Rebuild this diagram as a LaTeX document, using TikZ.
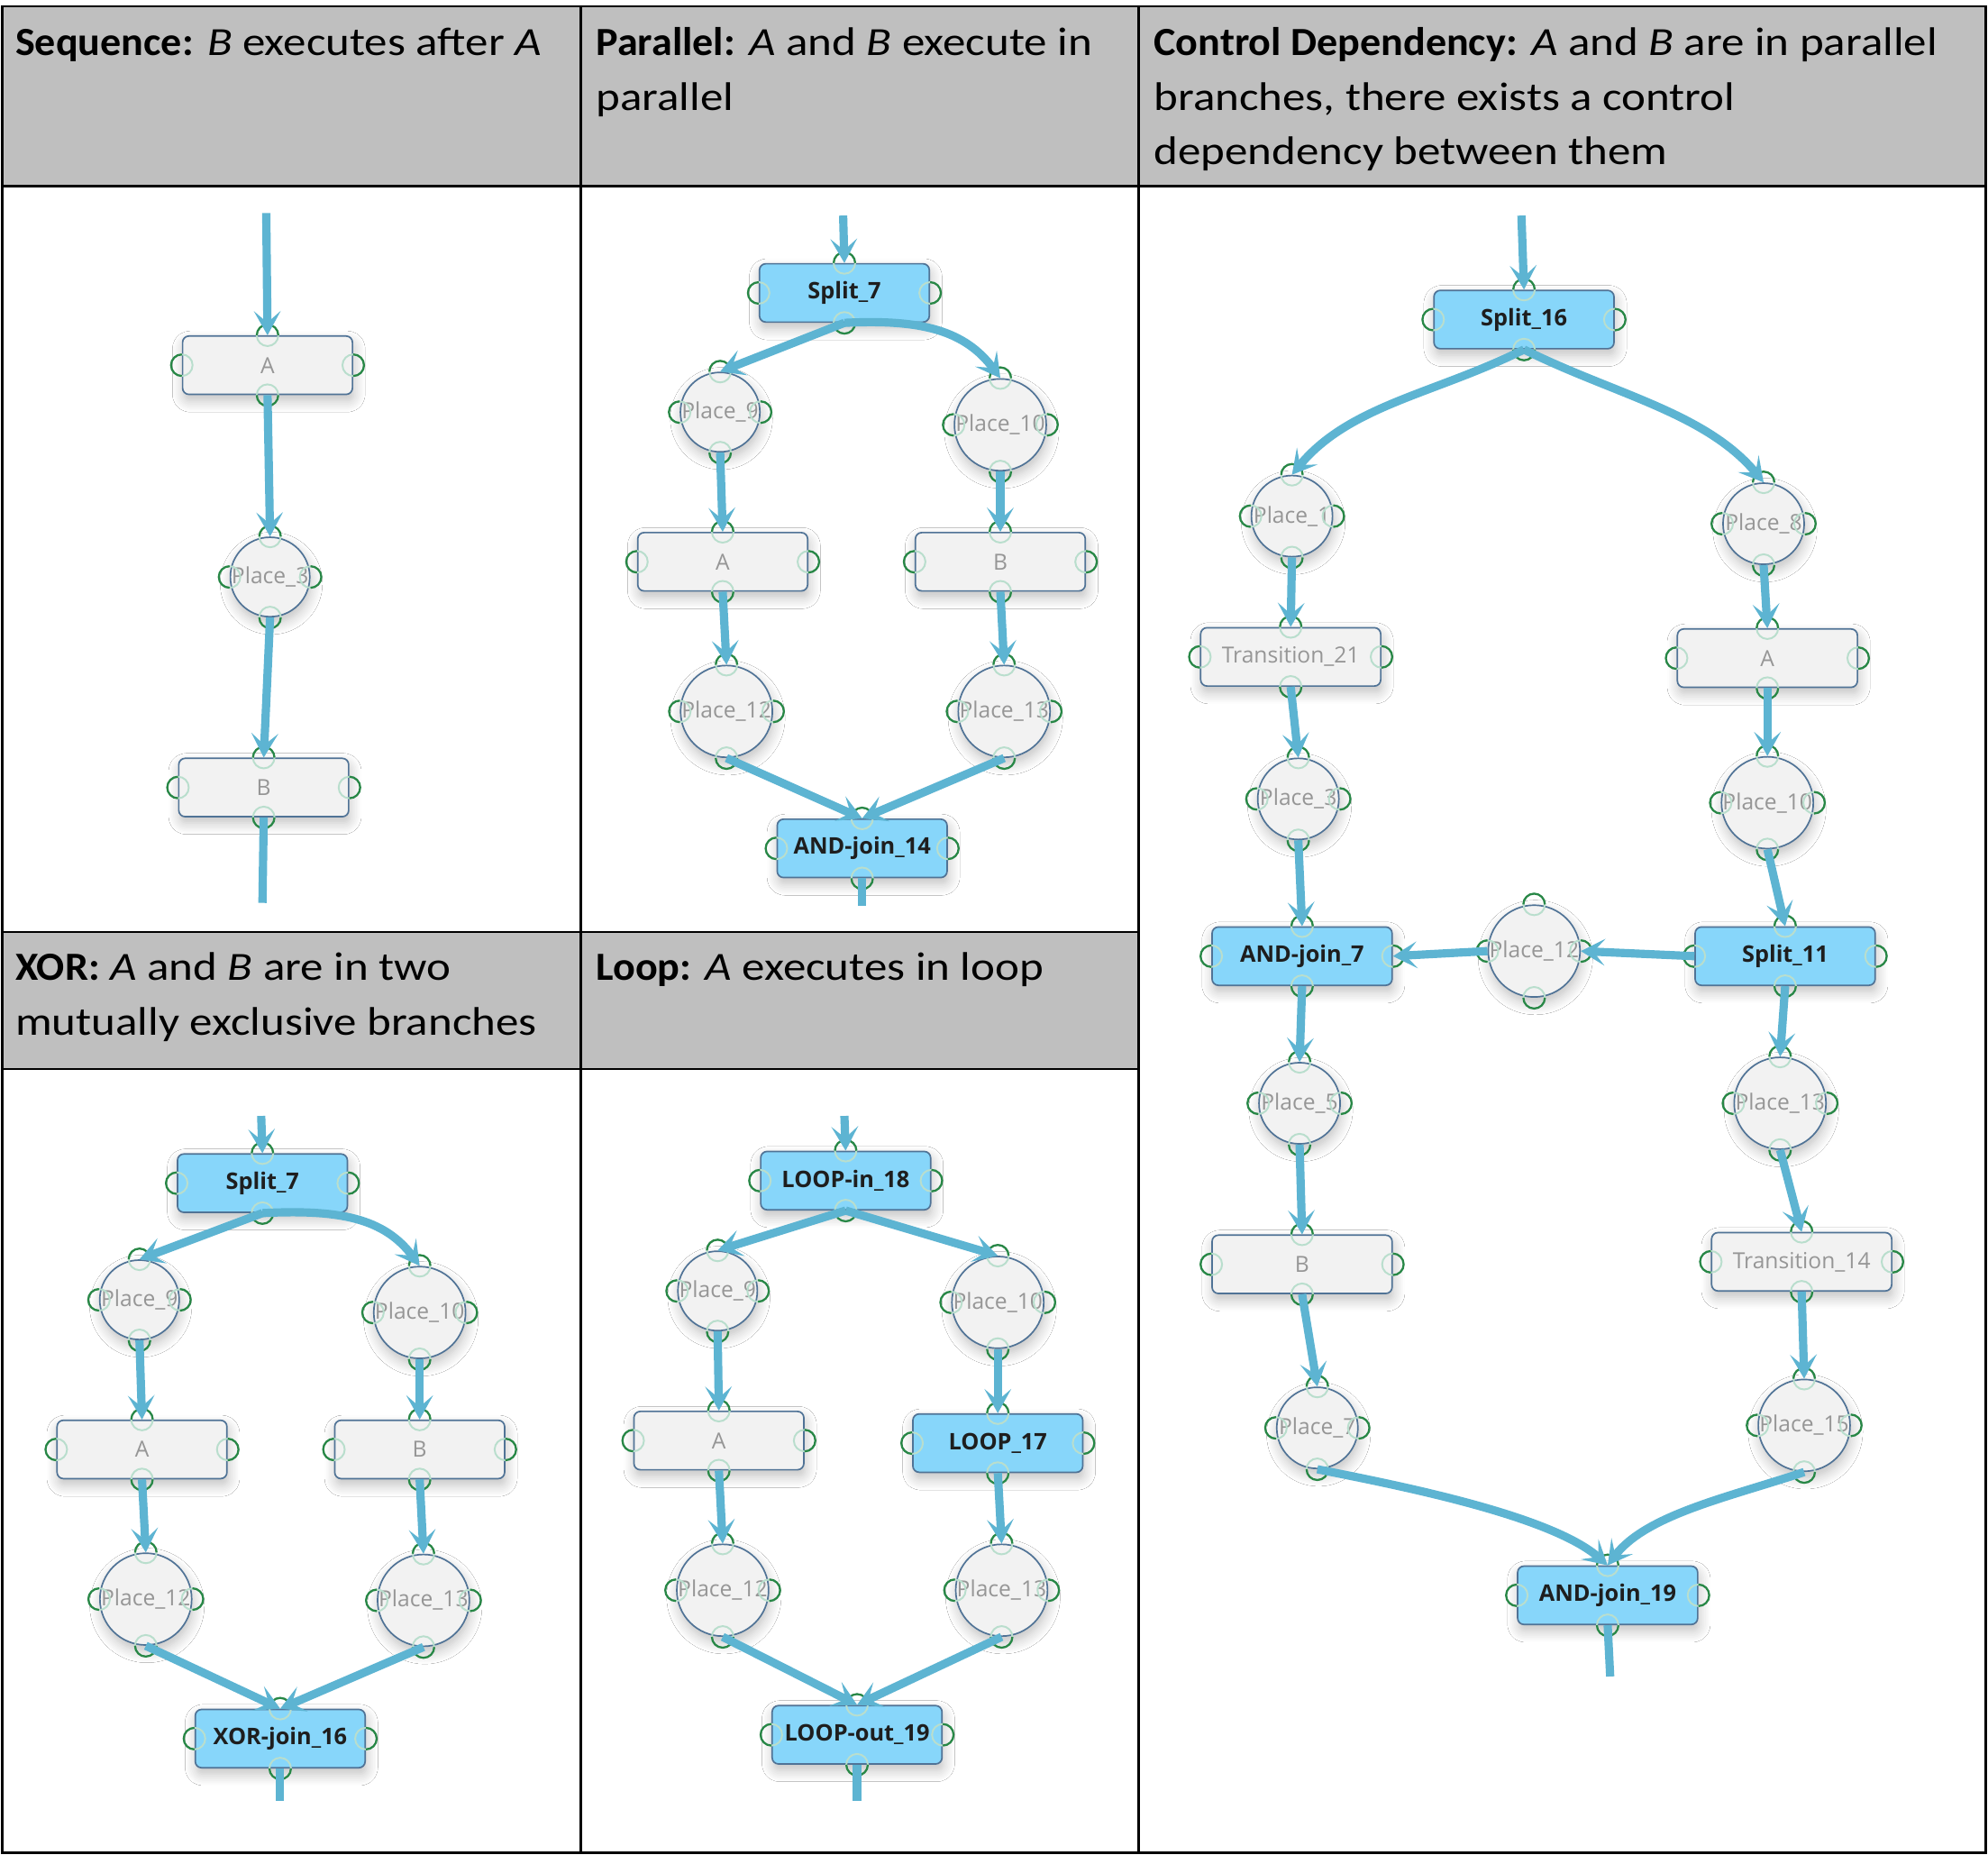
\documentclass[tikz,border=0pt]{standalone}
\usepackage{fontspec}
\setmainfont{Carlito}[UprightFeatures={FakeStretch=1.15},ItalicFeatures={FakeStretch=1.15},BoldFeatures={FakeStretch=1.04}]
\newfontfamily\nodefont{Open Sans}
\usetikzlibrary{arrows.meta,shadows.blur}
\definecolor{flowc}{RGB}{93,180,210}
\definecolor{hlfill}{RGB}{135,214,250}
\definecolor{nodefill}{RGB}{242,242,242}
\definecolor{nodedraw}{RGB}{80,115,150}
\definecolor{hdrfill}{RGB}{191,191,191}
\definecolor{portdk}{RGB}{40,135,70}
\definecolor{portlt}{RGB}{185,222,205}
\definecolor{lbl}{RGB}{150,150,150}
\definecolor{lblb}{RGB}{30,30,30}
\tikzset{
  hdr/.style={anchor=base west,inner sep=0pt,font=\fontsize{31.5}{43}\selectfont},
  shad/.style={blur shadow={shadow xshift=1pt,shadow yshift=-5pt,shadow blur radius=9pt,shadow blur steps=8,shadow opacity=25}},
  trans/.style={shad,draw=nodedraw,line width=1.2pt,fill=nodefill,rounded corners=5pt,minimum width=134pt,minimum height=46pt,inner sep=0pt,font=\nodefont\fontsize{17.5}{20}\selectfont,text=lbl},
  transw/.style={trans,minimum width=142pt},
  hl/.style={trans,fill=hlfill,font=\nodefont\bfseries\fontsize{18}{20}\selectfont,text=lblb},
  hlw/.style={hl,minimum width=142pt},
  place/.style={shad,circle,draw=nodedraw,line width=1.2pt,fill=nodefill,minimum size=62pt,inner sep=0pt,font=\nodefont\fontsize{17.5}{20}\selectfont,text=lbl},
  placew/.style={place,minimum size=64pt},
  flow/.style={line width=6.5pt,draw=flowc,-{Stealth[length=19pt,width=21pt,inset=9pt]}},
  tail/.style={line width=6.5pt,draw=flowc},
  portfaint/.style={draw=portlt,line width=1.4pt},
  portdark/.style={draw=portdk,line width=1.6pt},
  grid/.style={draw=black,line width=2pt}
}
\newcommand\prt[2]{%
  \draw[portfaint] (#1) circle[radius=8.5pt];
  \draw[portdark] (#1) ++(#2-90:8.5pt) arc[start angle=#2-90,delta angle=180,radius=8.5pt];}
\newcommand\ports[1]{\prt{#1.west}{180}\prt{#1.east}{0}\prt{#1.north}{90}\prt{#1.south}{270}}
\begin{document}
\begin{tikzpicture}[x=1pt,y=-1pt]
\useasboundingbox (0,0) rectangle (1568,1462.8);
\fill[white] (0,0) rectangle (1568,1462.8);
% table
\fill[hdrfill] (2,5) rectangle (1566,147);
\fill[hdrfill] (2,735) rectangle (898,843);
\draw[grid] (2,5) rectangle (1566,1461);
\draw[grid] (2,147) -- (1566,147);
\draw[grid] (2,735) -- (898,735);
\draw[grid] (2,843) -- (898,843);
\draw[grid] (458,5) -- (458,1461);
\draw[grid] (898,5) -- (898,1461);
% headers
\node[hdr] (h1) at (12,44) {\textbf{Sequence:} \textit{B} executes after \textit{A}};
\node[hdr] (h2a) at (470,44) {\textbf{Parallel:} \textit{A} and \textit{B} execute in};
\node[hdr] (h2b) at (470,87) {parallel};
\node[hdr] (h3a) at (910,44) {\textbf{Control Dependency:} \textit{A} and \textit{B} are in parallel};
\node[hdr] (h3b) at (910,87) {branches, there exists a control};
\node[hdr] (h3c) at (910,130) {dependency between them};
\node[hdr] (h4a) at (12,773) {\textbf{XOR:} \textit{A} and \textit{B} are in two};
\node[hdr] (h4b) at (12,816) {mutually exclusive branches};
\node[hdr] (h5) at (470,773) {\textbf{Loop:} \textit{A} executes in loop};

% ---------- Sequence
\coordinate (s_in) at (210,168);
\node[trans] (sA) at (211,288) {A};
\node[place] (sP3) at (213,455) {Place\_3};
\node[trans] (sB) at (208,621) {B};
\coordinate (s_out) at (207,712);

% ---------- Parallel
\coordinate (p_in) at (665,170);
\node[hl] (pS) at (666,231) {Split\_7};
\node[place] (pP9) at (568,325) {Place\_9};
\node[place] (pP10) at (789,335) {Place\_10};
\node[trans] (pA) at (570,443) {A};
\node[trans] (pB) at (789,443) {B};
\node[place] (pP12) at (573,561) {Place\_12};
\node[place] (pP13) at (792,561) {Place\_13};
\node[hl] (pJ) at (680,669) {AND-join\_14};
\coordinate (p_out) at (680,714);

% ---------- XOR
\coordinate (x_in) at (206,880);
\node[hl] (xS) at (207,933) {Split\_7};
\node[place] (xP9) at (110,1025) {Place\_9};
\node[place] (xP10) at (331,1035) {Place\_10};
\node[trans] (xA) at (112,1143) {A};
\node[trans] (xB) at (331,1143) {B};
\node[place] (xP12) at (115,1261) {Place\_12};
\node[place] (xP13) at (334,1262) {Place\_13};
\node[hl] (xJ) at (221,1371) {XOR-join\_16};
\coordinate (x_out) at (221,1420);

% ---------- Loop
\coordinate (l_in) at (666,880);
\node[hl] (lS) at (667,931) {LOOP-in\_18};
\node[place] (lP9) at (566,1018) {Place\_9};
\node[place] (lP10) at (787,1027) {Place\_10};
\node[trans] (lA) at (567,1136) {A};
\node[hl] (lL) at (787,1138) {LOOP\_17};
\node[place] (lP12) at (570,1254) {Place\_12};
\node[place] (lP13) at (790,1254) {Place\_13};
\node[hl] (lJ) at (676,1368) {LOOP-out\_19};
\coordinate (l_out) at (676,1420);

% ---------- Control dependency
\coordinate (c_in) at (1200,170);
\node[hlw] (cS) at (1202,252) {Split\_16};
\node[placew] (cP1) at (1019,407) {Place\_1};
\node[placew] (cP8) at (1391,413) {Place\_8};
\node[transw] (cT21) at (1018,518) {Transition\_21};
\node[transw] (cA) at (1394,519) {A};
\node[placew] (cP3) at (1024,630) {Place\_3};
\node[placew] (cP10) at (1394,633) {Place\_10};
\node[hlw] (cJ7) at (1027,754) {AND-join\_7};
\node[placew] (cP12) at (1210,750) {Place\_12};
\node[hlw] (cS11) at (1408,754) {Split\_11};
\node[placew] (cP5) at (1025,870) {Place\_5};
\node[placew] (cP13) at (1404,870) {Place\_13};
\node[transw] (cB) at (1027,997) {B};
\node[transw] (cT14) at (1421,995) {Transition\_14};
\node[placew] (cP7) at (1039,1126) {Place\_7};
\node[placew] (cP15) at (1423,1124) {Place\_15};
\node[hlw] (cJ19) at (1268,1258) {AND-join\_19};
\coordinate (c_out) at (1270,1322);

% ports
\foreach \n in {sA,sP3,sB,pS,pP9,pP10,pA,pB,pP12,pP13,pJ,xS,xP9,xP10,xA,xB,xP12,xP13,xJ,lS,lP9,lP10,lA,lL,lP12,lP13,lJ,cS,cP1,cP8,cT21,cA,cP3,cP10,cJ7,cP12,cS11,cP5,cP13,cB,cT14,cP7,cP15,cJ19}{\ports{\n}}

% ---------- connectors
% sequence
\draw[flow] (s_in) -- (sA.north);
\draw[flow] (sA.south) -- (sP3.north);
\draw[flow] (sP3.south) -- (sB.north);
\draw[tail] (sB.south) -- (s_out);
% parallel
\draw[flow] (p_in) -- (pS.north);
\draw[flow] (pS.south) -- (pP9.north);
\draw[flow] (pS.south) .. controls +(60,-3) and +(-28,-38) .. (pP10.north);
\draw[flow] (pP9.south) -- (pA.north);
\draw[flow] (pP10.south) -- (pB.north);
\draw[flow] (pA.south) -- (pP12.north);
\draw[flow] (pB.south) -- (pP13.north);
\draw[flow] (pP12.south) -- (pJ.north);
\draw[flow] (pP13.south) -- (pJ.north);
\draw[tail] (pJ.south) -- (p_out);
% xor
\draw[flow] (x_in) -- (xS.north);
\draw[flow] (xS.south) -- (xP9.north);
\draw[flow] (xS.south) .. controls +(60,-3) and +(-28,-38) .. (xP10.north);
\draw[flow] (xP9.south) -- (xA.north);
\draw[flow] (xP10.south) -- (xB.north);
\draw[flow] (xA.south) -- (xP12.north);
\draw[flow] (xB.south) -- (xP13.north);
\draw[flow] (xP12.south) -- (xJ.north);
\draw[flow] (xP13.south) -- (xJ.north);
\draw[tail] (xJ.south) -- (x_out);
% loop
\draw[flow] (l_in) -- (lS.north);
\draw[flow] (lS.south) -- (lP9.north);
\draw[flow] (lS.south) -- (lP10.north);
\draw[flow] (lP9.south) -- (lA.north);
\draw[flow] (lP10.south) -- (lL.north);
\draw[flow] (lA.south) -- (lP12.north);
\draw[flow] (lL.south) -- (lP13.north);
\draw[flow] (lP12.south) -- (lJ.north);
\draw[flow] (lP13.south) -- (lJ.north);
\draw[tail] (lJ.south) -- (l_out);
% control dependency
\draw[flow] (c_in) -- (cS.north);
\draw[flow] (cS.south) .. controls +(-70,35) and +(45,-55) .. (cP1.north);
\draw[flow] (cS.south) .. controls +(70,35) and +(-45,-55) .. (cP8.north);
\draw[flow] (cP1.south) -- (cT21.north);
\draw[flow] (cP8.south) -- (cA.north);
\draw[flow] (cT21.south) -- (cP3.north);
\draw[flow] (cA.south) -- (cP10.north);
\draw[flow] (cP3.south) -- (cJ7.north);
\draw[flow] (cP10.south) -- (cS11.north);
\draw[flow] (cS11.west) -- (cP12.east);
\draw[flow] (cP12.west) -- (cJ7.east);
\draw[flow] (cJ7.south) -- (cP5.north);
\draw[flow] (cS11.south) -- (cP13.north);
\draw[flow] (cP5.south) -- (cB.north);
\draw[flow] (cP13.south) -- (cT14.north);
\draw[flow] (cB.south) -- (cP7.north);
\draw[flow] (cT14.south) -- (cP15.north);
\draw[flow] (cP7.south) .. controls +(60,12) and +(-45,-40) .. (cJ19.north);
\draw[flow] (cP15.south) .. controls +(-60,20) and +(30,-40) .. (cJ19.north);
\draw[tail] (cJ19.south) -- (c_out);
\end{tikzpicture}
\end{document}
